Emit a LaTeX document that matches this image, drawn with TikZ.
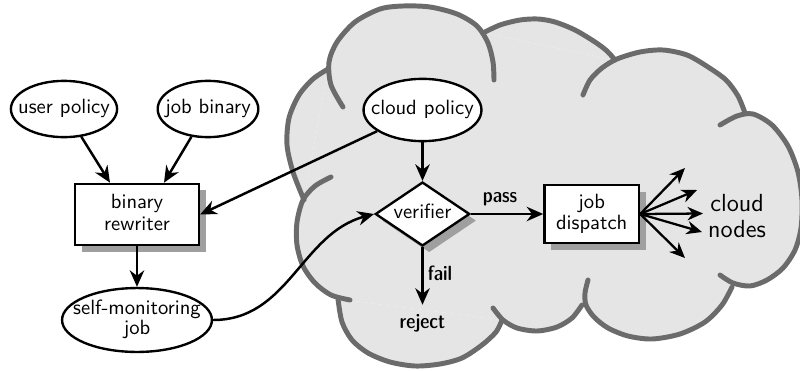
\documentclass[tikz,border=0pt]{standalone}
\usetikzlibrary{arrows.meta,shapes.geometric,shadows,calc}
\definecolor{cloudgray}{gray}{0.9}
\definecolor{cloudedge}{gray}{0.42}
% centred block of lines that does not widen the node it sits in
\newcommand{\lines}[1]{\makebox[0pt]{\begin{tabular}{@{}c@{}}#1\end{tabular}}}
\begin{document}
\begin{tikzpicture}[x=0.485pt,y=0.485pt,
  font=\sffamily,
  shape line/.style={draw=black, line width=1.15pt, fill=white},
  oval/.style={shape line, ellipse, inner sep=0pt},
  boxshadow/.style={general shadow={fill=gray!75, shadow xshift=3.2pt, shadow yshift=-3.2pt}},
  procbox/.style={shape line, rectangle, inner sep=0pt, boxshadow},
  decision/.style={shape line, diamond, inner sep=0pt, boxshadow},
  flow/.style={line width=1.2pt, -{Stealth[length=8pt,width=7pt,inset=2.6pt]}},
  fan/.style={line width=1.1pt, -{Stealth[length=7.5pt,width=6.5pt,inset=2.4pt]}},
  tag/.style={font=\sffamily\fontseries{sbc}\selectfont, inner sep=0pt},
  cloudfill/.style={fill=cloudgray},
  cloudline/.style={draw=cloudedge, line width=2.4pt, line cap=round, line join=round},
]
\useasboundingbox (0,0) rectangle (800,-370);

% ---------- cloud: lobe fills ----------
\fill[cloudfill] plot[smooth] coordinates {(304,-200) (293,-172) (287,-145) (289,-118) (299,-95) (313,-79) (328,-69)} -- cycle;
\fill[cloudfill] plot[smooth] coordinates {(331,-177) (315,-186) (303,-200) (297,-222) (297,-245) (303,-266) (315,-283) (331,-295) (350,-300)} -- cycle;
\fill[cloudfill] plot[smooth] coordinates {(338,-299) (342,-322) (352,-340) (368,-353) (390,-362) (415,-366) (440,-364) (462,-358) (482,-345) (496,-332) (502,-320)} -- cycle;
\fill[cloudfill] plot[smooth] coordinates {(493,-308) (503,-320) (517,-328) (537,-331) (557,-327) (572,-318) (582,-305)} -- cycle;
\fill[cloudfill] plot[smooth] coordinates {(588,-280) (585,-293) (586,-305) (594,-317) (608,-328) (628,-336) (652,-339) (680,-334) (705,-322) (722,-305) (732,-287)} -- cycle;
\fill[cloudfill] plot[smooth] coordinates {(720,-125) (737,-116) (753,-114) (772,-125) (788,-146) (798,-172) (802,-200) (801,-228) (795,-250) (783,-268) (767,-280) (750,-286) (733,-283) (720,-275)} -- cycle;
\fill[cloudfill] plot[smooth] coordinates {(583,-95) (590,-80) (602,-68) (617,-59) (640,-52) (663,-50) (687,-55) (708,-67) (726,-80) (738,-96) (745,-113)} -- cycle;
\fill[cloudfill] plot[smooth] coordinates {(483,-33) (500,-25) (520,-20) (538,-19) (555,-22) (575,-30) (595,-42) (607,-51) (615,-60)} -- cycle;
\fill[cloudfill] plot[smooth] coordinates {(343,-107) (331,-85) (329,-62) (337,-42) (355,-22) (380,-9) (403,-6) (430,-7) (457,-14) (477,-26) (488,-43) (493,-62) (494,-80)} -- cycle;
\fill[cloudfill] (328,-69) -- (483,-33) -- (615,-60) -- (745,-113) -- (732,-287) -- (582,-305) -- (502,-320) -- (338,-299) -- (304,-200) -- cycle;

% ---------- cloud: outline and curls ----------
\draw[cloudline] plot[smooth] coordinates {(304,-200) (293,-172) (287,-145) (289,-118) (299,-95) (313,-79) (328,-69)};
\draw[cloudline] plot[smooth] coordinates {(331,-177) (315,-186) (303,-200) (297,-222) (297,-245) (303,-266) (315,-283) (331,-295) (350,-300)};
\draw[cloudline] plot[smooth] coordinates {(338,-299) (342,-322) (352,-340) (368,-353) (390,-362) (415,-366) (440,-364) (462,-358) (482,-345) (496,-332) (502,-320)};
\draw[cloudline] plot[smooth] coordinates {(493,-308) (503,-320) (517,-328) (537,-331) (557,-327) (572,-318) (582,-305)};
\draw[cloudline] plot[smooth] coordinates {(588,-280) (585,-293) (586,-305) (594,-317) (608,-328) (628,-336) (652,-339) (680,-334) (705,-322) (722,-305) (732,-287)};
\draw[cloudline] plot[smooth] coordinates {(720,-125) (737,-116) (753,-114) (772,-125) (788,-146) (798,-172) (802,-200) (801,-228) (795,-250) (783,-268) (767,-280) (750,-286) (733,-283) (720,-275)};
\draw[cloudline] plot[smooth] coordinates {(583,-95) (590,-80) (602,-68) (617,-59) (640,-52) (663,-50) (687,-55) (708,-67) (726,-80) (738,-96) (745,-113)};
\draw[cloudline] plot[smooth] coordinates {(483,-33) (500,-25) (520,-20) (538,-19) (555,-22) (575,-30) (595,-42) (607,-51) (615,-60)};
\draw[cloudline] plot[smooth] coordinates {(343,-107) (331,-85) (329,-62) (337,-42) (355,-22) (380,-9) (403,-6) (430,-7) (457,-14) (477,-26) (488,-43) (493,-62) (494,-80)};

% ---------- nodes ----------
\node[oval, minimum width=51.5pt, minimum height=27.3pt] (up) at (64,-109) {\lines{user policy}};
\node[oval, minimum width=48.8pt, minimum height=27.3pt] (jb) at (208,-109) {\lines{job binary}};
\node[oval, minimum width=57.2pt, minimum height=30.2pt] (cp) at (422.5,-110) {\lines{cloud policy}};
\node[oval, minimum width=72.7pt, minimum height=31pt] (sm) at (137,-320) {\lines{self-monitoring\\[-2.3pt] job}};
\node[procbox, minimum width=60.1pt, minimum height=29.7pt] (rw) at (137,-214.5) {\lines{binary\\[-1pt] rewriter}};
\node[procbox, minimum width=45.9pt, minimum height=28.1pt] (jd) at (591.7,-214) {\lines{job\\[-1.5pt] dispatch}};
\node[decision, minimum width=45.8pt, minimum height=31pt] (ver) at (422.5,-214) {\lines{verifier}};

\node[tag] (pass) at (500,-199) {pass};
\node[tag] (fail) at (440,-273) {fail};
\node[tag] (rej) at (422.5,-323.5) {reject};
\node[font=\sffamily\fontsize{12}{12.3}\selectfont, align=center, inner sep=0pt] (cn) at (737,-216) {cloud\\nodes};

\coordinate (n1) at (685,-168);
\coordinate (n2) at (697,-190);
\coordinate (n3) at (703,-213.5);
\coordinate (n4) at (702,-232);
\coordinate (n5) at (685,-258);

% ---------- connectors ----------
\draw[flow] (up) -- ($(rw.north)+(-27,0)$);
\draw[flow] (jb) -- ($(rw.north)+(27,0)$);
\draw[flow] (cp.205) -- (rw.east);
\draw[flow] (rw) -- (sm);
\draw[flow] (cp) -- (ver);
\draw[flow] (sm.east) to[out=0, in=195] (ver.west);
\draw[flow] (ver) -- (jd);
\draw[flow, shorten >=4.6pt] (ver) -- (rej);
\foreach \c in {n1,n2,n3,n4,n5} \draw[fan] (jd.east) -- (\c);
\end{tikzpicture}
\end{document}
